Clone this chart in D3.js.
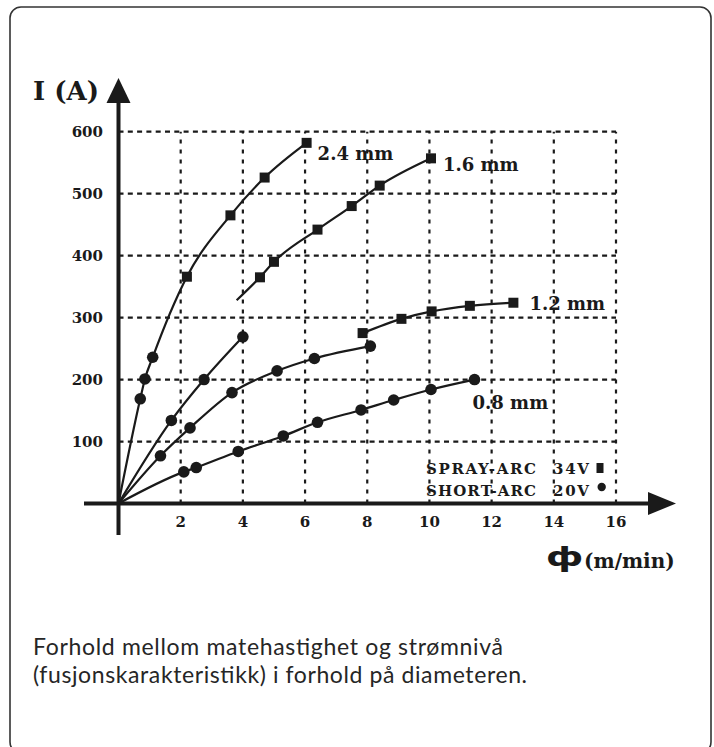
<!DOCTYPE html>
<meta charset="utf-8">
<style>
body { margin: 0; background: #fff; overflow: hidden; }
.tick-label { font-family: "DejaVu Serif"; font-weight: bold; font-size: 15px; fill: #1a1a1a; }
.wire-label { font-family: "DejaVu Serif"; font-weight: bold; font-size: 18px; fill: #1a1a1a; }
.legend { font-family: "DejaVu Serif"; font-weight: bold; font-size: 15px; fill: #1a1a1a; letter-spacing: 2px; }
.caption { font-family: "Lato"; font-size: 23px; fill: #262626; }
.grid-h { stroke: #1a1a1a; stroke-width: 2.2; stroke-dasharray: 5,4.3; }
.grid-v { stroke: #1a1a1a; stroke-width: 2.2; stroke-dasharray: 4,6; }
.curve { fill: none; stroke: #1a1a1a; stroke-width: 2.2; }
</style>
<body>
<svg width="714" height="747"></svg>
<script src="https://d3js.org/d3.v7.min.js"></script>
<script>
// values: [feed speed m/min, current A]
var shortArc24 = [[0.7, 169], [0.85, 201], [1.1, 236]];
var sprayArc24 = [[2.2, 366], [3.6, 465], [4.7, 526], [6.05, 582]];
var shortArc16 = [[1.7, 134], [2.75, 200], [4.0, 269]];
var sprayStart16 = [3.8, 328];
var sprayArc16 = [[4.55, 365], [5.0, 390], [6.4, 442], [7.5, 480], [8.4, 513], [10.05, 557]];
var shortArc12 = [[1.35, 77], [2.3, 122], [3.65, 179], [5.1, 214], [6.3, 234], [8.1, 254]];
var sprayArc12 = [[7.85, 275], [9.1, 298], [10.07, 310], [11.3, 319], [12.7, 324]];
var shortArc08 = [[2.1, 51], [2.5, 58], [3.85, 84], [5.3, 109], [6.4, 131], [7.8, 151], [8.85, 167], [10.05, 184], [11.45, 200]];
var origin = [0, 0];

var wireLabels = ["2.4 mm", "1.6 mm", "1.2 mm", "0.8 mm"];
var xTicks = [2, 4, 6, 8, 10, 12, 14, 16];
var yTicks = [100, 200, 300, 400, 500, 600];
var legendRows = [["SPRAY-ARC", "34V"], ["SHORT-ARC", "20V"]];
var captionLines = ["Forhold mellom matehastighet og strømnivå",
                    "(fusjonskarakteristikk) i forhold på diameteren."];

var svg = d3.select("svg");
var ink = "#1a1a1a";

var x = d3.scaleLinear().domain([0, 16]).range([118.5, 616]);
var y = d3.scaleLinear().domain([0, 600]).range([503.5, 131.7]);

// frame (bottom edge falls just below the picture)
svg.append("rect")
    .attr("x", 10).attr("y", 7)
    .attr("width", 701).attr("height", 746)
    .attr("rx", 11)
    .attr("fill", "none")
    .attr("stroke", "#333")
    .attr("stroke-width", 1.6);

// grid
svg.selectAll(".grid-h")
  .data(yTicks)
  .enter().append("line")
    .attr("class", "grid-h")
    .attr("x1", x(0)).attr("x2", x(16))
    .attr("y1", function(d) { return y(d); })
    .attr("y2", function(d) { return y(d); });

svg.selectAll(".grid-v")
  .data(xTicks)
  .enter().append("line")
    .attr("class", "grid-v")
    .attr("y1", y(0)).attr("y2", y(600))
    .attr("x1", function(d) { return x(d); })
    .attr("x2", function(d) { return x(d); });

// axes
svg.append("line")
    .attr("x1", 84).attr("x2", 650)
    .attr("y1", y(0)).attr("y2", y(0))
    .attr("stroke", ink).attr("stroke-width", 4);
svg.append("path")
    .attr("d", "M648," + (y(0) - 11.5) + "L676," + y(0) + "L648," + (y(0) + 11.5) + "Z")
    .attr("fill", ink);

svg.append("line")
    .attr("x1", x(0)).attr("x2", x(0))
    .attr("y1", 535).attr("y2", 100)
    .attr("stroke", ink).attr("stroke-width", 4);
svg.append("path")
    .attr("d", "M" + (x(0) - 12) + ",103L" + x(0) + ",78L" + (x(0) + 12) + ",103Z")
    .attr("fill", ink);

svg.selectAll(".ytick")
  .data(yTicks)
  .enter().append("text")
    .attr("class", "tick-label ytick")
    .attr("x", 103)
    .attr("y", function(d) { return y(d) + 5.5; })
    .attr("text-anchor", "end")
    .text(function(d) { return d; });

svg.selectAll(".xtick")
  .data(xTicks)
  .enter().append("text")
    .attr("class", "tick-label xtick")
    .attr("x", function(d) { return x(d); })
    .attr("y", 527)
    .attr("text-anchor", "middle")
    .text(function(d) { return d; });

svg.append("text")
    .attr("x", 33).attr("y", 100)
    .attr("font-family", "DejaVu Serif").attr("font-weight", "bold")
    .attr("font-size", 26).attr("fill", ink)
    .text("I (A)");

svg.append("text")
    .attr("transform", "translate(546,566) scale(1.25,0.9)")
    .attr("font-family", "DejaVu Sans").attr("font-weight", "bold")
    .attr("font-size", 30).attr("fill", ink)
    .text("ф");
svg.append("text")
    .attr("x", 584).attr("y", 568)
    .attr("font-family", "DejaVu Serif").attr("font-weight", "bold")
    .attr("font-size", 20).attr("fill", ink)
    .text("(m/min)");

// curves
var line = d3.line()
    .x(function(d) { return x(d[0]); })
    .y(function(d) { return y(d[1]); })
    .curve(d3.curveMonotoneX);

var curves = [
  [origin].concat(shortArc24, sprayArc24),
  [origin].concat(shortArc16),
  [sprayStart16].concat(sprayArc16),
  [origin].concat(shortArc12),
  sprayArc12,
  [origin].concat(shortArc08)
];

svg.selectAll(".curve")
  .data(curves)
  .enter().append("path")
    .attr("class", "curve")
    .attr("d", line);

var squares = [].concat(sprayArc24, sprayArc16, sprayArc12);
var circles = [].concat(shortArc24, shortArc16, shortArc12, shortArc08);

svg.selectAll(".sq")
  .data(squares)
  .enter().append("rect")
    .attr("class", "sq")
    .attr("x", function(d) { return x(d[0]) - 5; })
    .attr("y", function(d) { return y(d[1]) - 5; })
    .attr("width", 10).attr("height", 10)
    .attr("fill", ink);

svg.selectAll(".dot")
  .data(circles)
  .enter().append("circle")
    .attr("class", "dot")
    .attr("cx", function(d) { return x(d[0]); })
    .attr("cy", function(d) { return y(d[1]); })
    .attr("r", 5.8)
    .attr("fill", ink);

// wire diameter labels, placed next to the end of each curve
var labelEnds = [sprayArc24[3], sprayArc16[5], sprayArc12[4], shortArc08[8]];
var labelOffsets = [[11, 17], [12, 13], [16, 7], [-2, 29]];
svg.selectAll(".wire-label")
  .data(wireLabels)
  .enter().append("text")
    .attr("class", "wire-label")
    .attr("x", function(d, i) { return x(labelEnds[i][0]) + labelOffsets[i][0]; })
    .attr("y", function(d, i) { return y(labelEnds[i][1]) + labelOffsets[i][1]; })
    .text(function(d) { return d; });

// legend
var legend = svg.selectAll(".legend-row")
  .data(legendRows)
  .enter().append("g")
    .attr("class", "legend-row")
    .attr("transform", function(d, i) { return "translate(0," + (474 + i * 22) + ")"; });

legend.append("text")
    .attr("class", "legend")
    .attr("x", 426)
    .attr("textLength", 112)
    .attr("lengthAdjust", "spacing")
    .text(function(d) { return d[0]; });
legend.append("text")
    .attr("class", "legend")
    .attr("x", 553)
    .attr("textLength", 38)
    .attr("lengthAdjust", "spacing")
    .text(function(d) { return d[1]; });

svg.append("rect")
    .attr("x", 596.5).attr("y", 463).attr("width", 7).attr("height", 10)
    .attr("fill", ink);
svg.append("circle")
    .attr("cx", 601.7).attr("cy", 487).attr("r", 4.2)
    .attr("fill", ink);

// caption
svg.selectAll(".caption")
  .data(captionLines)
  .enter().append("text")
    .attr("class", "caption")
    .attr("x", 33)
    .attr("y", function(d, i) { return 655 + i * 28; })
    .attr("textLength", function(d, i) { return i == 0 ? 470 : 494; })
    .attr("lengthAdjust", "spacing")
    .text(function(d) { return d; });
</script>
</body>
</html>
